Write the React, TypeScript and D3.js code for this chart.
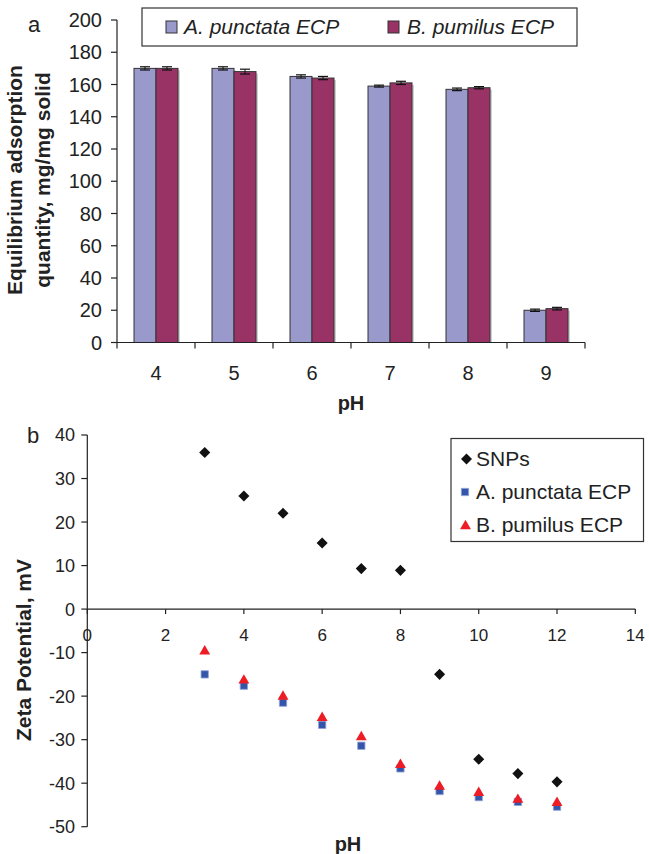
import React from 'react';
import * as d3 from 'd3';

// ---- Panel a data ----
const phCategories = ['4', '5', '6', '7', '8', '9'];
const punctataAds = [170, 170, 165, 159, 157, 20];
const pumilusAds = [170, 168, 164, 161, 158, 21];
const punctataErr = [1, 1, 1, 0.6, 0.8, 0.7];
const pumilusErr = [1, 1.5, 1, 1, 0.7, 0.8];
const adsTicks = [0, 20, 40, 60, 80, 100, 120, 140, 160, 180, 200];

// ---- Panel b data ----
const zetaPH = [3, 4, 5, 6, 7, 8, 9, 10, 11, 12];
const snpsZeta = [36, 26, 22, 15.2, 9.3, 8.9, -15, -34.5, -37.8, -39.7];
const punctataZeta = [-15, -17.6, -21.5, -26.6, -31.4, -36.6, -41.8, -43.2, -44.3, -45.4];
const pumilusZeta = [-9.7, -16.4, -20.1, -25, -29.4, -35.8, -40.8, -42.2, -43.8, -44.5];
const zetaXTicks = [0, 2, 4, 6, 8, 10, 12, 14];
const zetaYTicks = [-50, -40, -30, -20, -10, 0, 10, 20, 30, 40];

const FONT = '"Liberation Sans", Arial, Helvetica, sans-serif';
const COL_A = '#9999CC';
const COL_B = '#993366';
const COL_SQ = '#3355AA';
const COL_TRI = '#EE1C25';

export default function App() {
  // Panel a scales
  const xa = d3.scaleBand<string>().domain(phCategories).range([117, 585]);
  const xs = d3.scaleBand<string>().domain(['A', 'B']).range([0, 44]);
  const ya = d3.scaleLinear().domain([0, 200]).range([342.5, 20]);

  // Panel b scales
  const xb = d3.scaleLinear().domain([0, 14]).range([87.3, 635.3]);
  const yb = d3.scaleLinear().domain([-50, 40]).range([826.7, 435]);

  const diamond = d3.symbol().type(d3.symbolDiamond2).size(78)();
  const square = d3.symbol().type(d3.symbolSquare2).size(68)();
  const triangle = d3.symbol().type(d3.symbolTriangle2).size(85)();

  const bars = phCategories.flatMap((c, i) => [
    { key: 'A', c, v: punctataAds[i], e: punctataErr[i], fill: COL_A },
    { key: 'B', c, v: pumilusAds[i], e: pumilusErr[i], fill: COL_B },
  ]);

  return (
    <svg width={649} height={854} style={{ position: 'absolute', left: 0, top: 0, background: '#fff' }} fontFamily={FONT}>
      <rect x={0} y={0} width={649} height={854} fill="#fff" />
      {/* ================= Panel a ================= */}
      <text x={28} y={32} fontSize={22} fill="#222">a</text>
      {/* bars */}
      {bars.map((b, i) => {
        const x0 = (xa(b.c) as number) + xa.bandwidth() / 2 - 22 + (xs(b.key) as number);
        const w = xs.bandwidth();
        return (
          <g key={i}>
            <rect x={x0 + 2} y={ya(b.v) + 2} width={w} height={ya(0) - ya(b.v) - 2} fill="#d0d0d0" />
            <rect x={x0} y={ya(b.v)} width={w} height={ya(0) - ya(b.v)} fill={b.fill} stroke="#333" strokeWidth={1} />
            <line x1={x0 + w / 2} x2={x0 + w / 2} y1={ya(b.v + b.e)} y2={ya(b.v - b.e)} stroke="#111" strokeWidth={1} />
            <line x1={x0 + w / 2 - 5} x2={x0 + w / 2 + 5} y1={ya(b.v + b.e)} y2={ya(b.v + b.e)} stroke="#111" strokeWidth={1.2} />
            <line x1={x0 + w / 2 - 5} x2={x0 + w / 2 + 5} y1={ya(b.v - b.e)} y2={ya(b.v - b.e)} stroke="#111" strokeWidth={1.2} />
          </g>
        );
      })}
      {/* y axis */}
      <line x1={117} x2={117} y1={ya(200)} y2={ya(0)} stroke="#222" strokeWidth={1.2} />
      {adsTicks.map((t) => (
        <g key={t}>
          <line x1={111} x2={117} y1={ya(t)} y2={ya(t)} stroke="#222" strokeWidth={1.2} />
          <text x={102} y={ya(t)} dy="0.36em" textAnchor="end" fontSize={20} fill="#222">{t}</text>
        </g>
      ))}
      {/* x axis */}
      <line x1={117} x2={585} y1={ya(0)} y2={ya(0)} stroke="#222" strokeWidth={1.2} />
      {[...phCategories.map((c) => xa(c) as number), 585].map((x, i) => (
        <line key={i} x1={x} x2={x} y1={ya(0)} y2={ya(0) + 6} stroke="#222" strokeWidth={1.2} />
      ))}
      {phCategories.map((c) => (
        <text key={c} x={(xa(c) as number) + xa.bandwidth() / 2} y={380} textAnchor="middle" fontSize={20} fill="#222">{c}</text>
      ))}
      <text x={351} y={410} textAnchor="middle" fontSize={20} fontWeight="bold" fill="#222">pH</text>
      <text transform="translate(21.5,180) rotate(-90)" textAnchor="middle" fontSize={21} fontWeight="bold" fill="#222">Equilibrium adsorption</text>
      <text transform="translate(49.5,180) rotate(-90)" textAnchor="middle" fontSize={21} fontWeight="bold" fill="#222">quantity, mg/mg solid</text>
      {/* legend a */}
      <rect x={142} y={8} width={435} height={38} fill="#fff" stroke="#333" strokeWidth={1.2} />
      <rect x={166} y={21} width={11} height={12} fill={COL_A} stroke="#333" strokeWidth={1} />
      <text x={184} y={33.5} fontSize={21} fontStyle="italic" fill="#222">A. punctata ECP</text>
      <rect x={388} y={21} width={11} height={12} fill={COL_B} stroke="#333" strokeWidth={1} />
      <text x={407} y={33.5} fontSize={21} fontStyle="italic" fill="#222">B. pumilus ECP</text>

      {/* ================= Panel b ================= */}
      <text x={27} y={443} fontSize={22} fill="#222">b</text>
      <line x1={xb(0)} x2={xb(0)} y1={yb(40)} y2={yb(-50)} stroke="#222" strokeWidth={1.2} />
      {zetaYTicks.map((t) => (
        <g key={t}>
          <line x1={xb(0) - 6} x2={xb(0)} y1={yb(t)} y2={yb(t)} stroke="#222" strokeWidth={1.2} />
          <text x={75} y={yb(t)} dy="0.36em" textAnchor="end" fontSize={18} fill="#222">{t}</text>
        </g>
      ))}
      <line x1={xb(0)} x2={xb(14)} y1={yb(0)} y2={yb(0)} stroke="#222" strokeWidth={1.2} />
      {zetaXTicks.map((t) => (
        <g key={t}>
          <line x1={xb(t)} x2={xb(t)} y1={yb(0)} y2={yb(0) + 5} stroke="#222" strokeWidth={1.2} />
          <text x={xb(t)} y={641} textAnchor="middle" fontSize={17} fill="#222">{t}</text>
        </g>
      ))}
      <text x={348} y={851} textAnchor="middle" fontSize={20} fontWeight="bold" fill="#222">pH</text>
      <text transform="translate(31,650) rotate(-90)" textAnchor="middle" fontSize={21} fontWeight="bold" fill="#222">Zeta Potential, mV</text>

      {/* points */}
      {zetaPH.map((p, i) => (
        <path key={'s' + i} d={diamond as string} transform={`translate(${xb(p)},${yb(snpsZeta[i])})`} fill="#111" />
      ))}
      {zetaPH.map((p, i) => (
        <path key={'a' + i} d={square as string} transform={`translate(${xb(p)},${yb(punctataZeta[i])})`} fill={COL_SQ} stroke="#8fa3d6" strokeWidth={0.8} />
      ))}
      {zetaPH.map((p, i) => (
        <path key={'b' + i} d={triangle as string} transform={`translate(${xb(p)},${yb(pumilusZeta[i])})`} fill={COL_TRI} />
      ))}

      {/* legend b */}
      <rect x={451} y={438.5} width={192.5} height={103} fill="#fff" stroke="#333" strokeWidth={1.2} />
      <path d={diamond as string} transform="translate(466.5,459)" fill="#111" />
      <text x={476} y={466} fontSize={21} fill="#222">SNPs</text>
      <path d={square as string} transform="translate(465,492)" fill={COL_SQ} stroke="#8fa3d6" strokeWidth={0.8} />
      <text x={476} y={498.5} fontSize={21} fill="#222">A. punctata ECP</text>
      <path d={triangle as string} transform="translate(465.5,526)" fill={COL_TRI} />
      <text x={476} y={532} fontSize={21} fill="#222">B. pumilus ECP</text>
    </svg>
  );
}
